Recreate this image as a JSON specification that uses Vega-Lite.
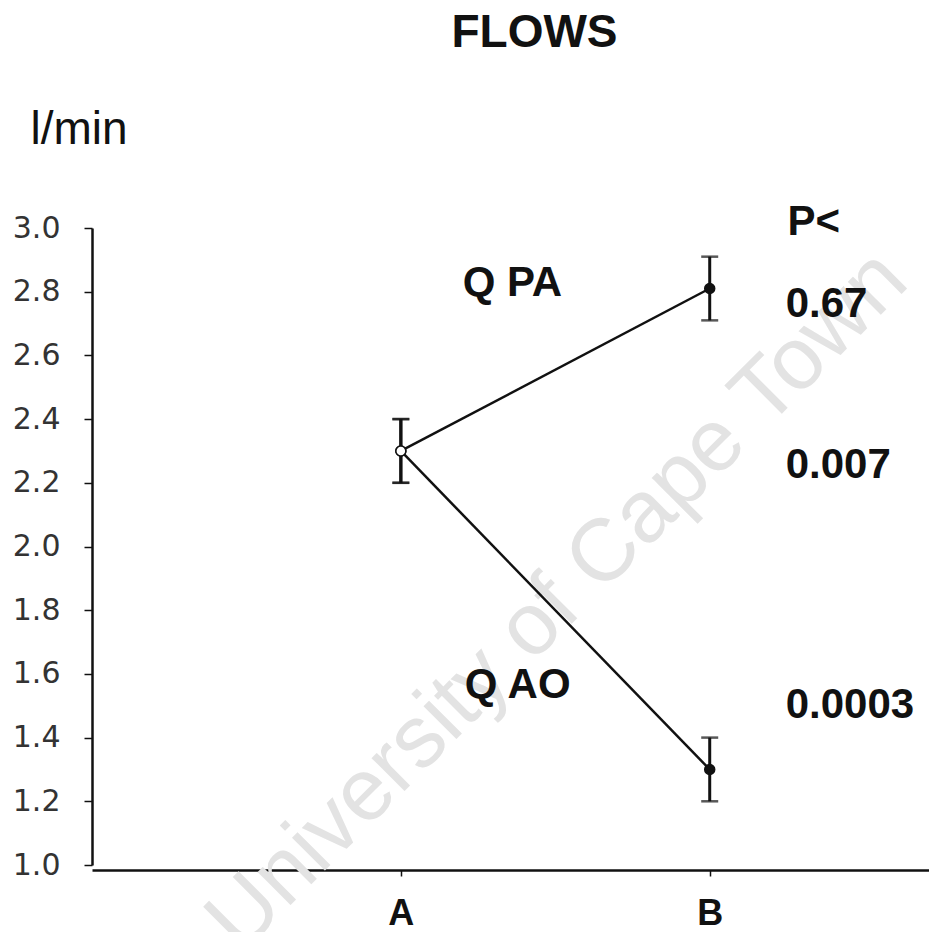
{
  "$schema": "https://vega.github.io/schema/vega-lite/v6.json",
  "width": 837,
  "height": 637,
  "autosize": {"type": "none"},
  "padding": {"left": 92, "top": 228, "right": 0, "bottom": 67},
  "background": "white",
  "title": {
    "text": "FLOWS",
    "font": "Liberation Sans",
    "fontSize": 46,
    "fontWeight": "bold",
    "color": "#111111",
    "anchor": "middle",
    "dx": 24,
    "offset": 49
  },
  "config": {
    "view": {"stroke": null},
    "axis": {"grid": false}
  },
  "datasets": {
    "flows": [
      {"series": "Q PA", "time": 1, "mean": 2.3, "lo": 2.2, "hi": 2.4, "marker": "open"},
      {"series": "Q PA", "time": 2, "mean": 2.81, "lo": 2.71, "hi": 2.91, "marker": "filled"},
      {"series": "Q AO", "time": 1, "mean": 2.3, "lo": 2.2, "hi": 2.4, "marker": "open"},
      {"series": "Q AO", "time": 2, "mean": 1.3, "lo": 1.2, "hi": 1.4, "marker": "filled"}
    ],
    "notes": [
      {"text": "Q PA", "x": 1.2, "y": 2.787},
      {"text": "Q AO", "x": 1.207, "y": 1.524},
      {"text": "P<", "x": 2.252, "y": 2.978},
      {"text": "0.67", "x": 2.246, "y": 2.721},
      {"text": "0.007", "x": 2.246, "y": 2.215},
      {"text": "0.0003", "x": 2.246, "y": 1.462}
    ],
    "mark": [
      {"text": "University of Cape Town", "x": 1.508, "y": 1.829}
    ]
  },
  "layer": [
    {
      "data": {"name": "mark"},
      "mark": {"type": "text", "font": "Liberation Sans", "fontSize": 88, "angle": -45, "align": "center", "baseline": "middle", "color": "#e3e3e3"},
      "encoding": {
        "x": {"field": "x", "type": "quantitative", "scale": {"domain": [0, 2.71], "nice": false}},
        "y": {"field": "y", "type": "quantitative", "scale": {"domain": [1, 3], "nice": false}},
        "text": {"field": "text"}
      }
    },
    {
      "data": {"name": "flows"},
      "mark": {"type": "line", "color": "#111111", "strokeWidth": 2.5},
      "encoding": {
        "x": {
          "field": "time", "type": "quantitative",
          "scale": {"domain": [0, 2.71], "nice": false},
          "axis": {
            "title": null, "values": [1, 2],
            "labelExpr": "datum.value == 1 ? 'A' : 'B'",
            "labelFont": "Liberation Sans", "labelFontSize": 36, "labelFontWeight": "bold", "labelColor": "#111111",
            "labelPadding": 20, "tickSize": 6, "tickWidth": 1.5, "tickColor": "#111111",
            "domainWidth": 2.5, "domainColor": "#111111", "offset": 5
          }
        },
        "y": {
          "field": "mean", "type": "quantitative",
          "scale": {"domain": [1, 3], "nice": false},
          "axis": {
            "values": [1.0, 1.2, 1.4, 1.6, 1.8, 2.0, 2.2, 2.4, 2.6, 2.8, 3.0],
            "format": ".1f",
            "labelFont": "DejaVu Sans", "labelFontSize": 30, "labelColor": "#333333",
            "labelPadding": 24, "tickSize": 8, "tickWidth": 1.5, "tickColor": "#111111",
            "domainWidth": 2.5, "domainColor": "#111111",
            "title": "l/min", "titleAngle": 0, "titleX": -62, "titleY": -85,
            "titleAlign": "left", "titleBaseline": "alphabetic",
            "titleFont": "Liberation Sans", "titleFontSize": 46, "titleFontWeight": "normal", "titleColor": "#111111"
          }
        },
        "detail": {"field": "series"}
      }
    },
    {
      "data": {"name": "flows"},
      "mark": {"type": "rule", "color": "#111111", "strokeWidth": 3},
      "encoding": {
        "x": {"field": "time", "type": "quantitative"},
        "y": {"field": "lo", "type": "quantitative"},
        "y2": {"field": "hi"}
      }
    },
    {
      "data": {"name": "flows"},
      "mark": {"type": "tick", "color": "#111111", "orient": "horizontal", "size": 17, "thickness": 2.5},
      "encoding": {
        "x": {"field": "time", "type": "quantitative"},
        "y": {"field": "lo", "type": "quantitative"}
      }
    },
    {
      "data": {"name": "flows"},
      "mark": {"type": "tick", "color": "#111111", "orient": "horizontal", "size": 17, "thickness": 2.5},
      "encoding": {
        "x": {"field": "time", "type": "quantitative"},
        "y": {"field": "hi", "type": "quantitative"}
      }
    },
    {
      "data": {"name": "flows"},
      "mark": {"type": "point", "shape": "circle", "size": 100, "stroke": "#111111", "strokeWidth": 1.5, "opacity": 1, "filled": false},
      "encoding": {
        "x": {"field": "time", "type": "quantitative"},
        "y": {"field": "mean", "type": "quantitative"},
        "fill": {"field": "marker", "type": "nominal", "scale": {"domain": ["open", "filled"], "range": ["#ffffff", "#111111"]}, "legend": null}
      }
    },
    {
      "data": {"name": "notes"},
      "mark": {"type": "text", "font": "Liberation Sans", "fontSize": 42, "fontWeight": "bold", "align": "left", "baseline": "alphabetic", "color": "#111111"},
      "encoding": {
        "x": {"field": "x", "type": "quantitative"},
        "y": {"field": "y", "type": "quantitative"},
        "text": {"field": "text"}
      }
    }
  ]
}
